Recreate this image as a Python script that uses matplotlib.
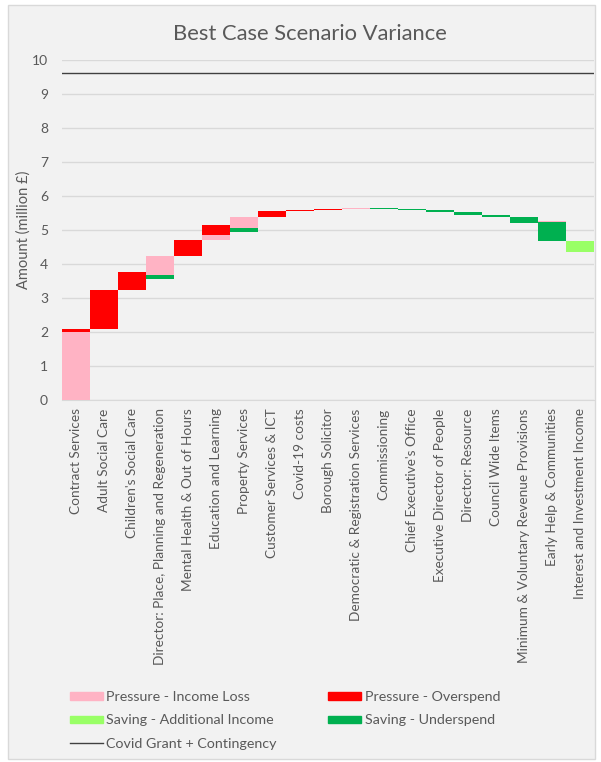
import numpy as np
import matplotlib.pyplot as plt
from matplotlib.patches import Patch, Rectangle
from matplotlib.lines import Line2D

plt.rcParams['font.family'] = ['Lato', 'DejaVu Sans']

# Data (million £)
categories = [
    "Contract Services", "Adult Social Care", "Children's Social Care",
    "Director: Place, Planning and Regeneration", "Mental Health & Out of Hours",
    "Education and Learning", "Property Services", "Customer Services & ICT",
    "Covid-19 costs", "Borough Solicitor", "Democratic & Registration Services",
    "Commissioning", "Chief Executive's Office", "Executive Director of People",
    "Director: Resource", "Council Wide Items",
    "Minimum & Voluntary Revenue Provisions", "Early Help & Communities",
    "Interest and Investment Income",
]
income_loss = [2.00, 0, 0, 0.57, 0, 0.13, 0.33, 0, 0, 0, 0.03, 0, 0, 0, 0, 0, 0, 0.03, 0]
overspend = [0.09, 1.15, 0.53, 0, 0.48, 0.30, 0, 0.17, 0.04, 0.03, 0, 0, 0, 0, 0, 0, 0, 0, 0]
additional_income = [0, 0, 0, 0, 0, 0, 0, 0, 0, 0, 0, 0, 0, 0, 0, 0, 0, 0, 0.32]
underspend = [0, 0, 0, 0.10, 0, 0, 0.10, 0, 0, 0, 0, 0.03, 0.03, 0.07, 0.07, 0.06, 0.17, 0.58, 0]
covid_grant = 9.63

C_LOSS = "#ffb3c4"
C_OVER = "#ff0000"
C_ADD = "#99ff66"
C_UNDER = "#00b050"
TXT = "#595959"


def waterfall_bases(il, ov, ai, us):
    """Bottom of each stacked column, following the spreadsheet's layout."""
    il, ov, ai, us = map(np.asarray, (il, ov, ai, us))
    net = il + ov - ai - us
    total = il + ov + ai + us
    end = np.cumsum(net)
    return np.where(net >= 0, end - total, end)


def main():
    fig = plt.figure(figsize=(6.01, 7.62), dpi=100)
    fig.patch.set_facecolor("white")
    fig.patches.append(Rectangle((0.013, 0.004), 0.977, 0.99, transform=fig.transFigure,
                                 facecolor="#f2f2f2", edgecolor="#d9d9d9", lw=1, zorder=-1))

    ax = fig.add_axes([0.103, 0.475, 0.885, 0.446])
    ax.set_facecolor("#f2f2f2")

    x = np.arange(len(categories))
    base = waterfall_bases(income_loss, overspend, additional_income, underspend)
    w = 0.98
    bottom = base.copy()
    for vals, col in [(additional_income, C_ADD), (underspend, C_UNDER),
                      (income_loss, C_LOSS), (overspend, C_OVER)]:
        vals = np.asarray(vals)
        ax.bar(x, vals, w, bottom=bottom, color=col, linewidth=0, zorder=3)
        bottom = bottom + vals

    ax.axhline(covid_grant, color="#404040", lw=1, zorder=4)

    ax.set_xlim(-0.5, len(categories) - 0.5)
    ax.set_ylim(0, 10)
    ax.set_yticks(range(0, 11))
    ax.grid(axis="y", color="#d9d9d9", lw=1, zorder=0)
    ax.set_xticks(x)
    ax.set_xticklabels(categories, rotation=90, ha="center", va="top",
                       fontsize=9.8, color=TXT)
    ax.tick_params(axis="both", length=0, labelcolor=TXT)
    ax.tick_params(axis="y", labelsize=10, pad=10)
    ax.tick_params(axis="x", pad=6)
    for s in ["top", "right", "left"]:
        ax.spines[s].set_visible(False)
    ax.spines["bottom"].set_color("#d9d9d9")
    ax.set_ylabel("Amount (million £)", fontsize=10.5, color=TXT, labelpad=1)

    fig.text(0.515, 0.955, "Best Case Scenario Variance", ha="center", va="center",
             fontsize=15.8, color=TXT)

    handles = [
        Patch(color=C_LOSS, label="Pressure - Income Loss"),
        Patch(color=C_ADD, label="Saving - Additional Income"),
        Line2D([], [], color="#404040", lw=1, label="Covid Grant + Contingency"),
        Patch(color=C_OVER, label="Pressure - Overspend"),
        Patch(color=C_UNDER, label="Saving - Underspend"),
    ]
    leg = fig.legend(handles=handles, ncol=2, loc="upper left",
                     bbox_to_anchor=(0.116, 1 - 691 / 762), frameon=False,
                     fontsize=10.3, handlelength=2.3, handleheight=0.45,
                     handletextpad=0.25, columnspacing=3.6, labelspacing=0.8,
                     borderaxespad=0, borderpad=0)
    for t in leg.get_texts():
        t.set_color(TXT)

    fig.savefig("out.png", dpi=100, facecolor=fig.get_facecolor())


if __name__ == "__main__":
    main()
